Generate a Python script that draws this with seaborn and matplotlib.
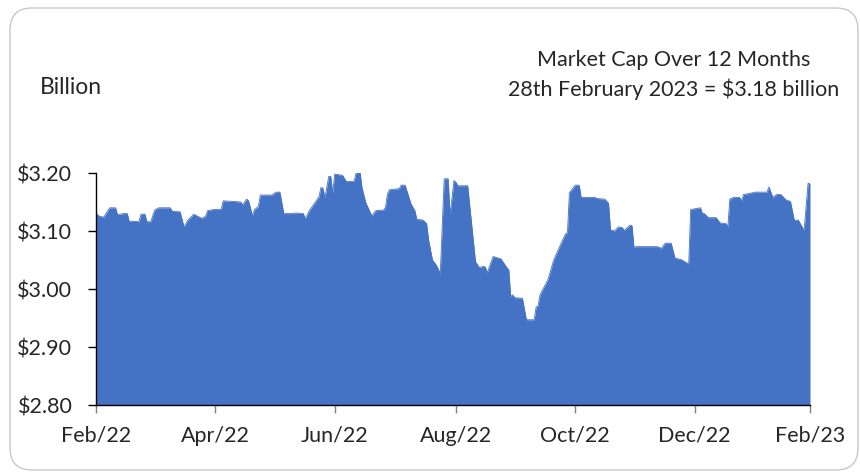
import pandas as pd
import matplotlib
matplotlib.use('Agg')
import matplotlib.pyplot as plt
from matplotlib.patches import FancyBboxPatch
from matplotlib.transforms import IdentityTransform
import seaborn as sns

# days after 28 Feb 2022 and market cap in $ billion
days = [0, 2, 4, 7, 10, 11, 14, 16, 17, 18, 22, 23, 25, 26, 28, 30, 32, 38, 39, 43,
        45, 47, 50, 51, 54, 56, 57, 60, 64, 65, 70, 74, 75, 77, 78, 80, 81, 83, 84, 90,
        92, 94, 96, 100, 102, 106, 107, 109, 114, 115, 116, 117, 119, 120, 121, 122, 126, 128, 132, 133,
        135, 136, 138, 141, 143, 147, 148, 149, 150, 155, 156, 158, 161, 163, 164, 167, 169, 170, 172, 174,
        176, 178, 180, 181, 183, 184, 185, 190, 194, 196, 198, 199, 200, 203, 207, 210, 211, 212, 213, 214,
        218, 220, 224, 225, 226, 227, 231, 232, 234, 237, 240, 241, 242, 245, 247, 248, 255, 256, 260, 262,
        263, 265, 267, 269, 270, 273, 274, 275, 276, 287, 289, 291, 294, 296, 299, 303, 304, 309, 310, 311,
        313, 317, 319, 322, 323, 324, 326, 329, 330, 331, 333, 337, 343, 344, 346, 348, 350, 353, 355, 357,
        359, 362, 364, 365]
values = [3.130, 3.125, 3.124, 3.140, 3.140, 3.128, 3.130, 3.130, 3.116, 3.117, 3.116, 3.129, 3.129, 3.116, 3.116, 3.136, 3.140, 3.140, 3.134, 3.133,
          3.107, 3.119, 3.129, 3.127, 3.122, 3.125, 3.135, 3.137, 3.137, 3.152, 3.151, 3.150, 3.145, 3.155, 3.152, 3.126, 3.137, 3.142, 3.162, 3.162,
          3.167, 3.167, 3.130, 3.130, 3.131, 3.130, 3.121, 3.135, 3.159, 3.175, 3.174, 3.157, 3.194, 3.194, 3.165, 3.198, 3.196, 3.185, 3.186, 3.201,
          3.201, 3.174, 3.148, 3.126, 3.135, 3.136, 3.141, 3.164, 3.171, 3.173, 3.179, 3.179, 3.147, 3.135, 3.120, 3.119, 3.113, 3.085, 3.050, 3.041,
          3.027, 3.190, 3.190, 3.128, 3.187, 3.184, 3.178, 3.178, 3.047, 3.037, 3.039, 3.038, 3.028, 3.056, 3.052, 3.037, 3.033, 2.987, 2.990, 2.985,
          2.984, 2.947, 2.947, 2.969, 2.971, 2.990, 3.016, 3.027, 3.050, 3.073, 3.095, 3.097, 3.166, 3.179, 3.179, 3.158, 3.158, 3.156, 3.155, 3.148,
          3.102, 3.100, 3.107, 3.106, 3.101, 3.110, 3.109, 3.072, 3.073, 3.073, 3.070, 3.079, 3.079, 3.053, 3.051, 3.043, 3.137, 3.140, 3.130, 3.130,
          3.123, 3.123, 3.114, 3.113, 3.107, 3.155, 3.158, 3.158, 3.152, 3.163, 3.164, 3.167, 3.167, 3.176, 3.158, 3.163, 3.163, 3.153, 3.151, 3.118,
          3.119, 3.101, 3.182, 3.182]

tick_dates = ['2022-02-28', '2022-04-30', '2022-06-30', '2022-08-31', '2022-10-31', '2022-12-31', '2023-02-28']
tick_labels = ['Feb/22', 'Apr/22', 'Jun/22', 'Aug/22', 'Oct/22', 'Dec/22', 'Feb/23']
y_ticks = [2.80, 2.90, 3.00, 3.10, 3.20]
y_labels = ['$2.80', '$2.90', '$3.00', '$3.10', '$3.20']

sns.set_style('white')
plt.rcParams['font.family'] = ['Lato', 'DejaVu Sans']

df = pd.DataFrame({'Date': pd.Timestamp('2022-02-28') + pd.to_timedelta(days, unit='D'),
                   'Value': values})

fig = plt.figure(figsize=(8.6, 4.72), dpi=100)

# rounded chart border
border = FancyBboxPatch((10, 2), 848, 462, boxstyle='round,pad=0,rounding_size=22',
                        transform=IdentityTransform(), facecolor='none',
                        edgecolor='#c8c8c8', linewidth=1.0)
fig.patches.append(border)

ax = fig.add_axes([96 / 860, 1 - 405 / 472, 714 / 860, 232 / 472])
ax.fill_between(df['Date'], df['Value'], 2.80, color='#4472C4', linewidth=0)
sns.lineplot(data=df, x='Date', y='Value', ax=ax, color='#4472C4', linewidth=0.6)

ax.set_xlim(pd.Timestamp(tick_dates[0]), pd.Timestamp(tick_dates[-1]))
ax.set_ylim(2.80, 3.20)
ax.set_xticks(pd.to_datetime(tick_dates))
ax.set_xticklabels(tick_labels)
ax.set_yticks(y_ticks)
ax.set_yticklabels(y_labels)
ax.set_xlabel('')
ax.set_ylabel('')

sns.despine(ax=ax, top=True, right=True)
ax.spines['left'].set_color('black')
ax.spines['bottom'].set_color('black')
ax.spines['left'].set_linewidth(1.0)
ax.spines['bottom'].set_linewidth(1.0)
ax.tick_params(axis='y', left=True, length=6, width=1, color='black', pad=11, labelsize=15.5)
ax.tick_params(axis='x', bottom=True, length=6, width=1, color='#808080', pad=9, labelsize=15.5)

fig.text(40 / 860, 1 - 88 / 472, 'Billion', ha='left', va='center', fontsize=16.5)
fig.text(674 / 860, 1 - 60 / 472, 'Market Cap Over 12 Months', ha='center', va='center', fontsize=15.5)
fig.text(674 / 860, 1 - 89 / 472, '28th February 2023 = $3.18 billion', ha='center', va='center', fontsize=15.5)

plt.savefig('out.png', dpi=100)
